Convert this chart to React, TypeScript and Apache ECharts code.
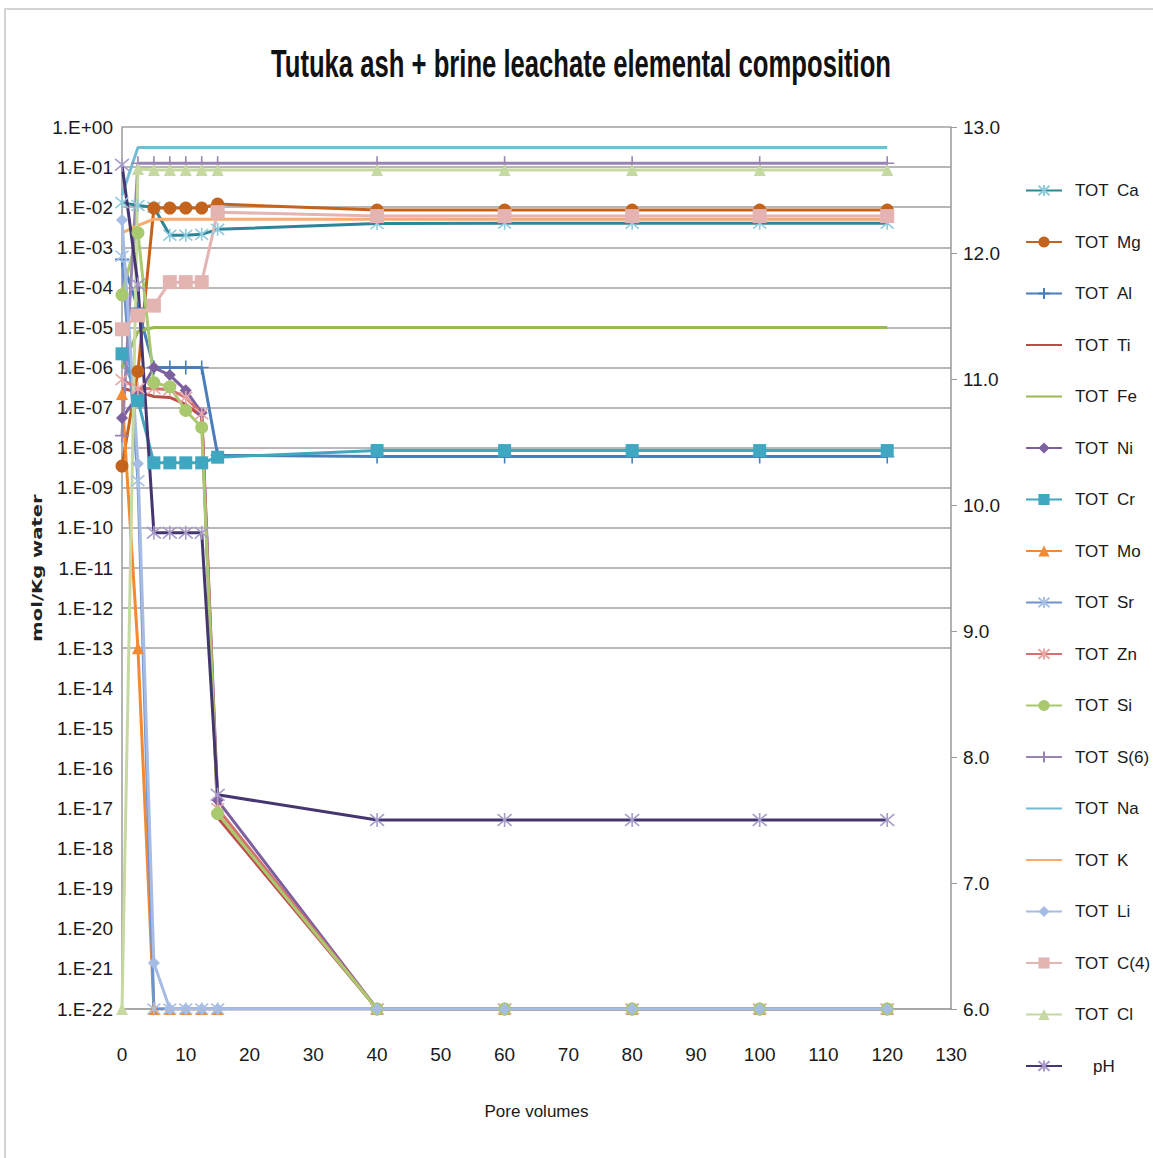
import React, { useEffect, useRef } from "react";
import * as echarts from "echarts";

// Pore volumes at which the leachate was sampled
const poreVolumes = [0, 2.5, 5, 7.5, 10, 12.5, 15, 40, 60, 80, 100, 120];

// Total dissolved concentrations, mol/Kg water
const totCa = [1.3e-2, 1.1e-2, 1.0e-2, 2.0e-3, 2.0e-3, 2.1e-3, 2.8e-3, 3.9e-3, 4.0e-3, 4.0e-3, 4.0e-3, 4.0e-3];
const totMg = [3.5e-9, 8e-7, 9.5e-3, 9.5e-3, 9.5e-3, 9.5e-3, 1.2e-2, 8.5e-3, 8.5e-3, 8.5e-3, 8.5e-3, 8.5e-3];
const totAl = [5e-4, 3e-5, 1.0e-6, 1.0e-6, 1.0e-6, 1.0e-6, 6.5e-9, 6.0e-9, 6.0e-9, 6.0e-9, 6.0e-9, 6.0e-9];
const totTi = [3e-7, 2.5e-7, 1.9e-7, 1.8e-7, 1.2e-7, 6e-8, 6e-18, 1e-22, 1e-22, 1e-22, 1e-22, 1e-22];
const totFe = [1e-6, 8e-6, 1.0e-5, 1.0e-5, 1.0e-5, 1.0e-5, 1.0e-5, 1.0e-5, 1.0e-5, 1.0e-5, 1.0e-5, 1.0e-5];
const totNi = [5.5e-8, 2e-7, 1.0e-6, 6.5e-7, 2.7e-7, 7.5e-8, 1.6e-17, 1e-22, 1e-22, 1e-22, 1e-22, 1e-22];
const totCr = [2.2e-6, 1.5e-7, 4.2e-9, 4.2e-9, 4.2e-9, 4.2e-9, 5.8e-9, 8.5e-9, 8.5e-9, 8.5e-9, 8.5e-9, 8.5e-9];
const totMo = [2.2e-7, 1e-13, 1e-22, 1e-22, 1e-22, 1e-22, 1e-22, 1e-22, 1e-22, 1e-22, 1e-22, 1e-22];
const totSr = [6e-4, 1.5e-9, 1e-22, 1e-22, 1e-22, 1e-22, 1e-22, 1e-22, 1e-22, 1e-22, 1e-22, 1e-22];
const totZn = [5e-7, 3e-7, 3e-7, 2.8e-7, 1.8e-7, 7e-8, 1e-17, 1e-22, 1e-22, 1e-22, 1e-22, 1e-22];
const totSi = [6.5e-5, 2.3e-3, 4.2e-7, 3.3e-7, 8.5e-8, 3.2e-8, 7.5e-18, 1e-22, 1e-22, 1e-22, 1e-22, 1e-22];
const totS6 = [2e-8, 1.25e-1, 1.25e-1, 1.25e-1, 1.25e-1, 1.25e-1, 1.25e-1, 1.25e-1, 1.25e-1, 1.25e-1, 1.25e-1, 1.25e-1];
const totNa = [2e-2, 3.1e-1, 3.1e-1, 3.1e-1, 3.1e-1, 3.1e-1, 3.1e-1, 3.1e-1, 3.1e-1, 3.1e-1, 3.1e-1, 3.1e-1];
const totK = [2.3e-3, 3.5e-3, 5e-3, 5e-3, 5e-3, 5e-3, 5e-3, 5e-3, 5e-3, 5e-3, 5e-3, 5e-3];
const totLi = [4.8e-3, 4e-9, 1.4e-21, 1e-22, 1e-22, 1e-22, 1e-22, 1e-22, 1e-22, 1e-22, 1e-22, 1e-22];
const totC4 = [9e-6, 2e-5, 3.5e-5, 1.35e-4, 1.35e-4, 1.35e-4, 7.5e-3, 6e-3, 6e-3, 6e-3, 6e-3, 6e-3];
const totCl = [1e-22, 9e-2, 8.5e-2, 8.5e-2, 8.5e-2, 8.5e-2, 8.5e-2, 8.5e-2, 8.5e-2, 8.5e-2, 8.5e-2, 8.5e-2];

// Leachate pH (right axis)
const pH = [12.7, 11.75, 9.78, 9.78, 9.78, 9.78, 7.7, 7.5, 7.5, 7.5, 7.5, 7.5];

// Axis ranges: concentration axis runs over decades, 1E-22 .. 1E+00
const decadeMin = -22;
const decadeMax = 0;
const pHMin = 6;
const pHMax = 13;
const xMax = 130;
const xStep = 10;

// Horizontal grid lines, drawn only for the upper decades
const gridDecades = [0, -1, -2, -3, -4, -5, -6, -7, -8, -9, -10, -11, -12, -13];

const ASTERISK = "path://M0,0L10,10M10,0L0,10M5,-1L5,11";
const PLUS = "path://M5,0L5,10M0,5L10,5";

type Def = {
  name: string;
  values: number[];
  color: string;
  symbol?: string;
  markColor?: string;
  size?: number;
  stroked?: boolean;
  isPH?: boolean;
};

const defs: Def[] = [
  { name: "TOT Ca", values: totCa, color: "#2F8598", symbol: ASTERISK, markColor: "#8FCBDC", size: 13, stroked: true },
  { name: "TOT Mg", values: totMg, color: "#C4631C", symbol: "circle", size: 13 },
  { name: "TOT Al", values: totAl, color: "#4A7EBB", symbol: PLUS, size: 14, stroked: true },
  { name: "TOT Ti", values: totTi, color: "#BE4B48" },
  { name: "TOT Fe", values: totFe, color: "#98B954" },
  { name: "TOT Ni", values: totNi, color: "#7D60A0", symbol: "diamond", size: 12 },
  { name: "TOT Cr", values: totCr, color: "#3FA7C0", symbol: "rect", size: 13 },
  { name: "TOT Mo", values: totMo, color: "#F38A32", symbol: "triangle", size: 12 },
  { name: "TOT Sr", values: totSr, color: "#6E94CC", symbol: ASTERISK, markColor: "#A8C0E4", size: 13, stroked: true },
  { name: "TOT Zn", values: totZn, color: "#D5726F", symbol: ASTERISK, markColor: "#E8A7A5", size: 13, stroked: true },
  { name: "TOT Si", values: totSi, color: "#A8C96E", symbol: "circle", size: 13 },
  { name: "TOT S(6)", values: totS6, color: "#9983B5", symbol: PLUS, size: 14, stroked: true },
  { name: "TOT Na", values: totNa, color: "#72BCD4" },
  { name: "TOT K", values: totK, color: "#F9AA6C" },
  { name: "TOT Li", values: totLi, color: "#A7BCE4", symbol: "diamond", size: 12 },
  { name: "TOT C(4)", values: totC4, color: "#E4B4B3", symbol: "rect", size: 14 },
  { name: "TOT Cl", values: totCl, color: "#C5D9A0", symbol: "triangle", size: 12 },
  { name: "pH", values: pH, color: "#453671", symbol: ASTERISK, markColor: "#A99CC9", size: 14, stroked: true, isPH: true },
];

const FONT = '"Liberation Sans", Arial, sans-serif';

function expLabel(v: number): string {
  const e = Math.round(v);
  return "1.E" + (e >= 0 ? "+" : "-") + String(Math.abs(e)).padStart(2, "0");
}

export default function App() {
  const ref = useRef<HTMLDivElement>(null);

  useEffect(() => {
    document.body.style.margin = "0";
    if (!ref.current) return;
    const chart = echarts.init(ref.current, undefined, { renderer: "svg" });

    const series: any[] = defs.map((d) => ({
      name: d.name,
      type: "line",
      yAxisIndex: d.isPH ? 1 : 0,
      data: poreVolumes.map((x, i) => [x, d.isPH ? d.values[i] : Math.log10(d.values[i])]),
      symbol: d.symbol ?? "none",
      symbolSize: d.size ?? 10,
      showSymbol: !!d.symbol,
      lineStyle: { color: d.color, width: 3 },
      itemStyle: d.stroked
        ? { color: "rgba(0,0,0,0)", borderColor: d.markColor ?? d.color, borderWidth: 1.6 }
        : { color: d.markColor ?? d.color, borderWidth: 0 },
      emphasis: { disabled: true },
    }));

    // gray grid lines behind the data
    series[0].markLine = {
      silent: true,
      symbol: "none",
      z: 1,
      label: { show: false },
      lineStyle: { color: "#a0a0a0", width: 1.5, type: "solid" },
      emphasis: { disabled: true },
      data: gridDecades.map((v) => ({ yAxis: v })),
    };

    const legendData = defs.map((d) =>
      d.symbol
        ? { name: d.name }
        : { name: d.name, itemStyle: { color: "rgba(0,0,0,0)", borderWidth: 0 } }
    );

    chart.setOption({
      animation: false,
      backgroundColor: "#ffffff",
      graphic: [
        {
          type: "rect",
          shape: { x: 5, y: 9, width: 1300, height: 1300 },
          style: { fill: "none", stroke: "#d4d4d4", lineWidth: 2 },
          silent: true,
          z: -10,
        },
        {
          type: "text",
          x: 581,
          y: 64,
          scaleX: 0.675,
          style: {
            text: "Tutuka ash + brine leachate elemental composition",
            font: 'bold 38px "Liberation Sans", Arial, sans-serif',
            fill: "#111111",
            textAlign: "center",
            textVerticalAlign: "middle",
          },
        },
        {
          type: "text",
          x: 37,
          y: 568,
          rotation: Math.PI / 2,
          scaleX: 1.4,
          style: {
            text: "mol/Kg water",
            font: 'bold 14px "DejaVu Sans", sans-serif',
            fill: "#222222",
            textAlign: "center",
            textVerticalAlign: "middle",
          },
        },
      ],
      legend: {
        orient: "vertical",
        left: 1020,
        top: 177,
        itemWidth: 36,
        itemHeight: 14,
        itemGap: 34.5,
        data: legendData,
        formatter: (name: string) =>
          name.startsWith("TOT ") ? `{t|TOT}{e|${name.slice(4)}}` : `{p|${name}}`,
        textStyle: {
          fontFamily: FONT,
          fontSize: 17,
          color: "#1a1a1a",
          lineHeight: 14,
          rich: {
            t: { fontFamily: FONT, fontSize: 17, lineHeight: 14, width: 42, padding: [0, 0, 0, 8] },
            e: { fontFamily: FONT, fontSize: 17, lineHeight: 14 },
            p: { fontFamily: FONT, fontSize: 17, lineHeight: 14, padding: [0, 0, 0, 26] },
          },
        },
      },
      grid: { left: 122, top: 127, width: 829, height: 882, containLabel: false },
      xAxis: {
        type: "value",
        min: 0,
        max: xMax,
        interval: xStep,
        name: "Pore volumes",
        nameLocation: "middle",
        nameGap: 94,
        nameTextStyle: { fontFamily: FONT, fontSize: 17, color: "#1a1a1a" },
        axisLine: { onZero: false, lineStyle: { color: "#8c8c8c", width: 1.5 } },
        axisTick: { show: false },
        axisLabel: { margin: 36, fontFamily: FONT, fontSize: 19, color: "#1a1a1a" },
        splitLine: { show: false },
      },
      yAxis: [
        {
          type: "value",
          min: decadeMin,
          max: decadeMax,
          interval: 1,
          position: "left",
          axisLine: { show: true, onZero: false, lineStyle: { color: "#9a9a9a", width: 1.5 } },
          axisTick: { show: false },
          axisLabel: {
            margin: 9,
            fontFamily: FONT,
            fontSize: 19,
            color: "#1a1a1a",
            formatter: expLabel,
          },
          splitLine: { show: false },
        },
        {
          type: "value",
          min: pHMin,
          max: pHMax,
          interval: 1,
          position: "right",
          axisLine: { show: true, onZero: false, lineStyle: { color: "#9a9a9a", width: 1.5 } },
          axisTick: { show: true, length: 6, lineStyle: { color: "#9a9a9a" } },
          axisLabel: {
            margin: 12,
            fontFamily: FONT,
            fontSize: 19,
            color: "#1a1a1a",
            formatter: (v: number) => v.toFixed(1),
          },
          splitLine: { show: false },
        },
      ],
      series,
    });

    return () => chart.dispose();
  }, []);

  return <div ref={ref} style={{ width: 1153, height: 1158 }} />;
}
